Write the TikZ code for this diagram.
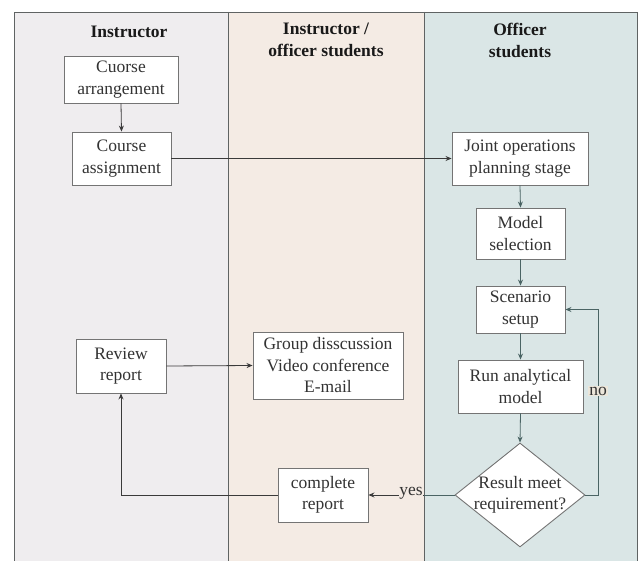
\documentclass[tikz,border=0pt]{standalone}
\usepackage{fontspec}
\setmainfont{Liberation Serif}
\usetikzlibrary{shapes.geometric,arrows.meta}
\definecolor{laneA}{HTML}{EFEDEF}
\definecolor{laneB}{HTML}{F4EBE4}
\definecolor{laneC}{HTML}{DAE6E6}
\definecolor{frameC}{HTML}{5F6363}
\definecolor{boxC}{HTML}{747474}
\definecolor{txtC}{HTML}{333333}
\definecolor{lineA}{HTML}{3A3A3A}
\definecolor{lineC}{HTML}{4A6464}
\definecolor{noC}{HTML}{ECE6DA}
\tikzset{
  procbox/.style={draw=boxC, fill=white, line width=0.9pt, inner sep=0pt, align=center,
    text=txtC, font=\fontsize{17.5}{21.5}\selectfont},
  lanehead/.style={align=center, text=black!90, font=\fontsize{17.5}{22}\selectfont\bfseries},
  conn/.style={draw=lineA, line width=0.8pt, -{Stealth[length=6pt,width=5pt]}},
  connC/.style={draw=lineC, line width=0.8pt, -{Stealth[length=6pt,width=5pt]}},
  edgelab/.style={text=txtC, inner sep=1pt, font=\fontsize{17.5}{21.5}\selectfont}
}
\begin{document}
\begin{tikzpicture}[x=1pt,y=-1pt]
\useasboundingbox (0,0) rectangle (640,561);
\fill[white] (0,0) rectangle (640,561);
% lanes
\fill[laneA] (14,12) rectangle (228,561);
\fill[laneB] (228,12) rectangle (424,561);
\fill[laneC] (424,12) rectangle (637,561);
\draw[frameC, line width=0.9pt] (14,561) -- (14,12) -- (637,12) -- (637,561);
\draw[frameC, line width=0.9pt] (228,12) -- (228,561);
\draw[frameC, line width=0.9pt] (424,12) -- (424,561);
% headers
\node[lanehead] (h1) at (129,32) {Instructor};
\node[lanehead] (h2) at (326,40) {Instructor /\\officer students};
\node[lanehead] (h3) at (520,40) {Officer\\students};
% boxes
\node[procbox, minimum width=114, minimum height=47] (ca) at (121,79.5) {Cuorse\\arrangement};
\node[procbox, minimum width=99, minimum height=53] (cs) at (121.5,158.5) {Course\\assignment};
\node[procbox, minimum width=136, minimum height=53] (jo) at (520,158.5) {Joint operations\\planning stage};
\node[procbox, minimum width=89, minimum height=51] (ms) at (520.5,233.5) {Model\\selection};
\node[procbox, minimum width=89, minimum height=47] (ss) at (520.5,309.5) {Scenario\\setup};
\node[procbox, minimum width=125, minimum height=53] (ra) at (520.5,386.5) {Run analytical\\model};
\node[procbox, minimum width=90, minimum height=54] (rr) at (121,366) {Review\\report};
\node[procbox, minimum width=150, minimum height=67] (gd) at (328,365.5) {Group disscussion\\Video conference\\E-mail};
\node[procbox, minimum width=90, minimum height=54] (cr) at (323,495) {complete\\report};
\node[diamond, draw=boxC, fill=white, line width=0.9pt, inner sep=0pt, aspect=1.25,
      minimum width=130, minimum height=104] (dm) at (520,495) {};
\node[align=center, text=txtC, font=\fontsize{17.5}{21.5}\selectfont] (dmt) at (dm.center) {Result meet\\requirement?};
% connectors
\draw[conn] (ca.south) -- (cs.north);
\draw[conn] (cs.east) -- (jo.west);
\draw[connC] (jo.south) -- (ms.north);
\draw[connC] (ms.south) -- (ss.north);
\draw[connC] (ss.south) -- (ra.north);
\draw[connC] (ra.south) -- (dm.north);
\coordinate (nocorner) at (598,495);
\draw[connC] (dm.east) -- (nocorner) |- (ss.east);
\node[edgelab, fill=noC] (nolab) at (598,391) {no};
\draw[connC, -] (dm.west) -- (424,495);
\draw[conn] (424,495) -- (cr.east);
\node[edgelab, fill=laneB, inner sep=0.5pt] (yeslab) at (411,493) {yes};
\draw[conn] (cr.west) -| (rr.south);
\draw[conn] (rr.east) -- (gd.west);
\end{tikzpicture}
\end{document}
